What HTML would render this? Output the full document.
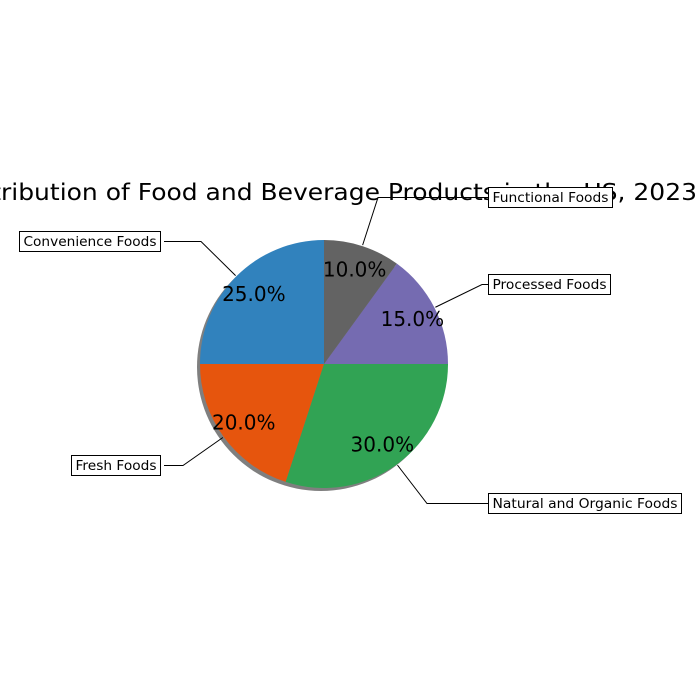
<!DOCTYPE html>
<html><head><meta charset="utf-8"><style>
html,body{margin:0;padding:0;background:#fff;}
svg{display:block;font-family:"DejaVu Sans","Liberation Sans",sans-serif;}
</style></head><body>
<svg id="chart" width="700" height="700" viewBox="0 0 700 700">
<text x="-48" y="200" font-size="23" textLength="745" lengthAdjust="spacingAndGlyphs" fill="#000">Distribution of Food and Beverage Products in the US, 2023</text>
<g id="shadow"></g>
<g id="slices"></g>
<g id="labels"></g>
</svg>
<script>
const categories = ["Convenience Foods","Fresh Foods","Natural and Organic Foods","Processed Foods","Functional Foods"];
const values = [25,20,30,15,10];
const colors = ["#3182bd","#e6550d","#31a354","#756bb1","#636363"];
const boxes = [[19,231,141],[71,455,89],[488,493,193],[488,274,122],[488,187,124]];
const elbowX = [201,183,427,482,378];
const NS="http://www.w3.org/2000/svg";
const cx=324, cy=364, r=124;
function pt(a,rr){return [cx+rr*Math.cos(a*Math.PI/180), cy-rr*Math.sin(a*Math.PI/180)];}
function mk(t,attrs,parent){const e=document.createElementNS(NS,t);for(const k in attrs)e.setAttribute(k,attrs[k]);parent.appendChild(e);return e;}
const total=values.reduce((a,b)=>a+b,0);
const sh=document.getElementById('shadow'),sl=document.getElementById('slices'),lb=document.getElementById('labels');
const c=mk('circle',{cx:cx-3,cy:cy+3,r:r,fill:'#000','fill-opacity':0.5},sh);


let start=90;
values.forEach((v,i)=>{
  const sweep=v/total*360, end=start+sweep;
  const p1=pt(start,r), p2=pt(end,r);
  const large=sweep>180?1:0;
  const p=mk('path',{d:`M${cx},${cy}L${p1[0]},${p1[1]}A${r},${r} 0 ${large} 0 ${p2[0]},${p2[1]}Z`,fill:colors[i]},sl);
  
  
  const mid=start+sweep/2;
  const tp=pt(mid,0.8*r);
  const t=mk('text',{x:tp[0],y:tp[1]+7,'font-size':20,'text-anchor':'middle',fill:'#000'},lb);
  t.textContent=(v/total*100).toFixed(1)+'%';
  
  
  const e=pt(mid,r+1);
  const b=boxes[i];
  const left=b[0]>cx;
  const by=b[1]+10.5;
  const bx=left?b[0]:b[0]+b[2]+4;
  const ln=mk('polyline',{points:`${e[0]},${e[1]} ${elbowX[i]},${by} ${bx},${by}`,fill:'none',stroke:'#000','stroke-width':1},lb);
  
  
  const rc=mk('rect',{x:b[0]+0.5,y:b[1]+0.5,width:b[2],height:20,fill:'#fff',stroke:'#000','stroke-width':1},lb);
  
  
  const lt=mk('text',{x:b[0]+b[2]/2+0.5,y:b[1]+15,'font-size':13,'text-anchor':'middle',fill:'#000'},lb);
  lt.setAttribute('textLength',b[2]-8);
  lt.setAttribute('lengthAdjust','spacingAndGlyphs');
  lt.textContent=categories[i];
  
  
  start=end;
});
</script>
</body></html>
